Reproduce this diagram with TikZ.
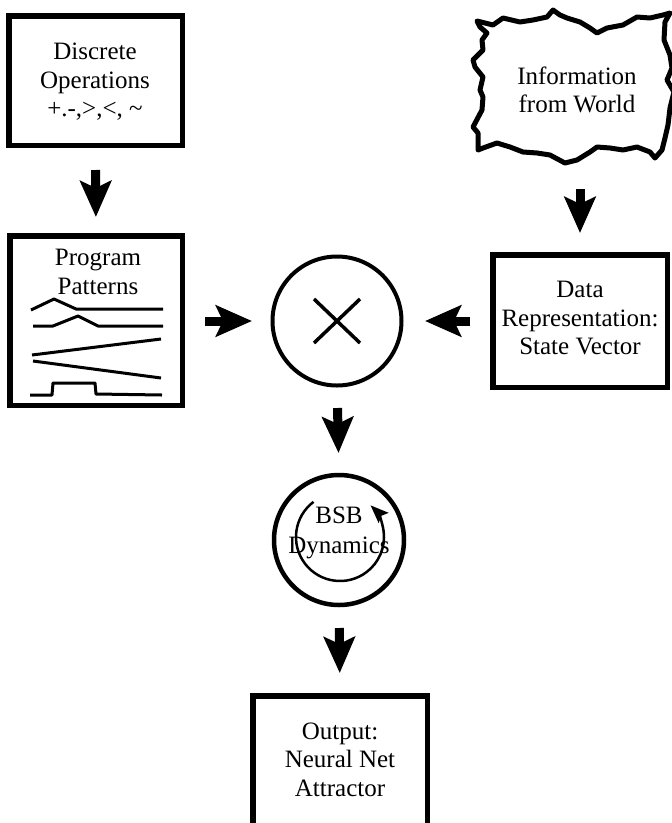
\documentclass[tikz,border=0pt]{standalone}
\usepackage{fontspec}
\setmainfont{Liberation Serif}
\usetikzlibrary{arrows.meta}
\tikzset{
  txt/.style={font=\fontsize{25}{28.5}\selectfont, align=center, inner sep=0pt},
  boxnode/.style={txt, draw, line width=5.5pt, outer sep=0pt},
  bigarrow/.style={line width=9pt, -{Stealth[length=36pt,width=31pt,inset=7pt]}},
  pattern/.style={line width=3pt, line join=round},
  ringnode/.style={circle, draw, line width=4pt, inner sep=0pt, outer sep=0pt, minimum size=129pt},
}
\begin{document}
\begin{tikzpicture}[x=1pt,y=-1pt]
\useasboundingbox (0,0) rectangle (672,823);
\fill[white] (0,0) rectangle (672,823);

% boxes
\node[boxnode, minimum width=173.5pt, minimum height=129.5pt] (disc) at (95.5,80.5) {};
\node[txt] (disctxt) at (95,82) {Discrete\\Operations\\+.-,>,<, \textasciitilde};
\node[boxnode, minimum width=172.5pt, minimum height=169.5pt] (prog) at (96,320.5) {};
\node[txt] (progtxt) at (98,272) {Program\\Patterns};
\node[boxnode, minimum width=174.5pt, minimum height=132.5pt] (data) at (580,321) {};
\node[txt] (datatxt) at (580,318) {Data\\Representation:\\State Vector};
\node[boxnode, minimum width=174.5pt, minimum height=131.5pt] (out) at (340,761.5) {};
\node[txt] (outtxt) at (340,759.5) {Output:\\Neural Net\\Attractor};

% information from world (jagged outline)
\node[txt, minimum height=138pt] (info) at (577,90) {Information\\from World};
\draw[line width=5pt, line join=round]
  (477,21) -- (493,25) -- (503,18) -- (520,22) -- (533,20) -- (547,17) -- (553,10)
  -- (560,15) -- (567,18) -- (580,22) -- (590,28) -- (597,33) -- (607,28) -- (623,25)
  -- (637,17) -- (650,18) -- (663,15) -- (670,13)
  -- (665,22) -- (664,40) -- (670,55) -- (672,68) -- (667,80) -- (674,92) -- (670,108)
  -- (668,125) -- (665,138) -- (662,150) -- (655,158)
  -- (650,152) -- (637,147) -- (623,150) -- (610,148) -- (597,147) -- (590,152)
  -- (577,160) -- (565,163) -- (550,155) -- (537,153) -- (523,152) -- (510,147)
  -- (497,143) -- (483,148) -- (478,150)
  -- (478,133) -- (473,127) -- (482,110) -- (483,97) -- (480,90) -- (483,77)
  -- (475,67) -- (473,60) -- (483,50) -- (482,40) -- (487,33) -- (480,27) -- cycle;

% program patterns
\draw[pattern] (31,310) -- (54,299) -- (76,309) -- (163,309);
\draw[pattern] (33,326) -- (53,326) -- (78,316) -- (98,326) -- (163,326);
\draw[pattern] (32,355) -- (161,339);
\draw[pattern] (33,361) -- (161,378);
\draw[pattern] (30,395) -- (52,395) -- (53,383) -- (95,383) -- (96,394) -- (162,395);

% multiplier
\node[ringnode] (mul) at (337,321) {};
\draw[line width=3.5pt] (mul.center) +(-23,-22) -- +(23,22);
\draw[line width=3.5pt] (mul.center) +(-23,22) -- +(23,-22);

% BSB dynamics
\node[ringnode, line width=4.5pt, minimum size=130pt] (bsb) at (339,540) {};
\node[txt] (bsbtxt) at (339,533) {BSB\\[1pt]Dynamics};
\coordinate (inner) at (340,537);
\draw[line width=2.5pt, -{Stealth[length=18pt,width=14pt,inset=3pt]}]
  (inner) ++(233:44) arc[start angle=233, end angle=-46, radius=44];

% arrows
\draw[bigarrow, shorten <=24.75pt, shorten >=18.75pt] (disc.south) -- (prog.north);
\draw[bigarrow, shorten <=30pt, shorten >=21.75pt] (info.south -| data.north) -- (data.north);
\draw[bigarrow, shorten <=22.75pt, shorten >=20.5pt] (prog.east |- mul.west) -- (mul.west);
\draw[bigarrow, shorten <=22.75pt, shorten >=23.5pt] (data.west |- mul.east) -- (mul.east);
\draw[bigarrow, shorten <=22.5pt, shorten >=22pt] (mul.south) -- (bsb.north);
\draw[bigarrow, shorten <=23pt, shorten >=22.75pt] (bsb.south) -- (out.north);
\end{tikzpicture}
\end{document}
